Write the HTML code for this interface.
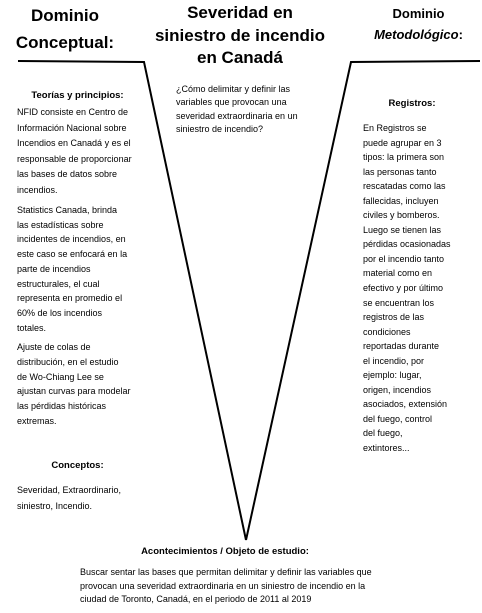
<!DOCTYPE html>
<html><head><meta charset="utf-8"><style>
body{margin:0;width:482px;height:613px;background:#fff;position:relative;overflow:hidden;font-family:"Liberation Sans",sans-serif;color:#000}
.t{position:absolute;font-size:9px;line-height:15.6px;white-space:nowrap}
.h{position:absolute;font-weight:bold;text-align:center;white-space:nowrap}
</style></head><body>
<svg width="482" height="613" style="position:absolute;left:0;top:0">
<polyline points="18,61 144,62 246,540" fill="none" stroke="#000" stroke-width="2"/>
<polyline points="480,61 351,62 246,540" fill="none" stroke="#000" stroke-width="2"/>
</svg>
<div class="h" style="left:0;width:130px;top:2px;font-size:17px;line-height:27px">Dominio<br>Conceptual:</div>
<div class="h" style="left:140px;width:200px;top:2px;font-size:17px;line-height:22.5px">Severidad en<br>siniestro de incendio<br>en Canadá</div>
<div class="h" style="left:355px;width:127px;top:3px;font-size:13px;line-height:21px">Dominio<br><i>Metodológico</i>:</div>
<div class="h" style="left:10px;width:135px;top:90px;font-size:9.5px">Teorías y principios:</div>
<div class="t" style="left:17px;top:105px">NFID consiste en Centro de<br>Información Nacional sobre<br>Incendios en Canadá y es el<br>responsable de proporcionar<br>las bases de datos sobre<br>incendios.</div>
<div class="t" style="left:17px;top:203px;line-height:14.7px">Statistics Canada, brinda<br>las estadísticas sobre<br>incidentes de incendios, en<br>este caso se enfocará en la<br>parte de incendios<br>estructurales, el cual<br>representa en promedio el<br>60% de los incendios<br>totales.</div>
<div class="t" style="left:17px;top:340px;line-height:14.8px">Ajuste de colas de<br>distribución, en el estudio<br>de Wo-Chiang Lee se<br>ajustan curvas para modelar<br>las pérdidas históricas<br>extremas.</div>
<div class="h" style="left:10px;width:135px;top:460px;font-size:9.5px">Conceptos:</div>
<div class="t" style="left:17px;top:483px">Severidad, Extraordinario,<br>siniestro, Incendio.</div>
<div class="t" style="left:176px;top:83px;line-height:13.4px">¿Cómo delimitar y definir las<br>variables que provocan una<br>severidad extraordinaria en un<br>siniestro de incendio?</div>
<div class="h" style="left:362px;width:100px;top:98px;font-size:9.5px">Registros:</div>
<div class="t" style="left:363px;top:121px;line-height:14.55px">En Registros se<br>puede agrupar en 3<br>tipos: la primera son<br>las personas tanto<br>rescatadas como las<br>fallecidas, incluyen<br>civiles y bomberos.<br>Luego se tienen las<br>pérdidas ocasionadas<br>por el incendio tanto<br>material como en<br>efectivo y por último<br>se encuentran los<br>registros de las<br>condiciones<br>reportadas durante<br>el incendio, por<br>ejemplo: lugar,<br>origen, incendios<br>asociados, extensión<br>del fuego, control<br>del fuego,<br>extintores...</div>
<div class="h" style="left:100px;width:250px;top:546px;font-size:9.5px">Acontecimientos / Objeto de estudio:</div>
<div class="t" style="left:80px;top:566px;line-height:13.6px">Buscar sentar las bases que permitan delimitar y definir las variables que<br>provocan una severidad extraordinaria en un siniestro de incendio en la<br>ciudad de Toronto, Canadá, en el periodo de 2011 al 2019</div>
</body></html>
